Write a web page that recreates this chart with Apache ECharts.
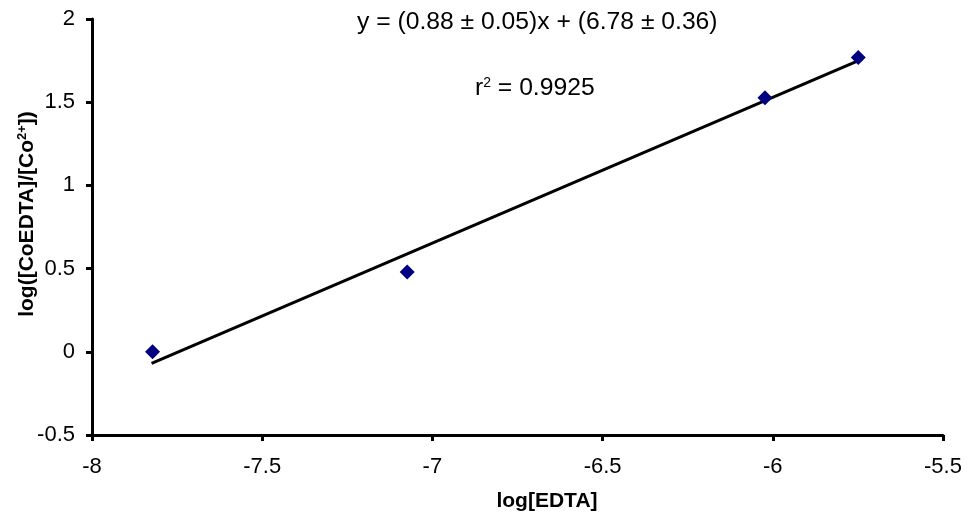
<!DOCTYPE html>
<html><head><meta charset="utf-8">
<script src="https://cdn.jsdelivr.net/npm/echarts@6/dist/echarts.min.js"></script>
<style>html,body{margin:0;padding:0;background:#fff}#c{width:968px;height:516px}</style>
</head><body><div id="c"></div>
<script>
const logEDTA = [-7.822, -7.074, -6.023, -5.749];
const logRatio = [0.0, 0.479, 1.527, 1.768];
const fitX = [-7.825, -5.75];
const fitY = [-0.069, 1.748];
const xTicks = [-8, -7.5, -7, -6.5, -6, -5.5];
const yTicks = [-0.5, 0, 0.5, 1, 1.5, 2];

const chart = echarts.init(document.getElementById('c'));
const font = 'Liberation Sans, Arial, sans-serif';
chart.setOption({
  animation: false,
  grid: {left: 92, right: 25, top: 19, bottom: 81},
  xAxis: {
    type: 'value', min: xTicks[0], max: xTicks[xTicks.length-1], interval: 0.5,
    axisLine: {onZero: false, lineStyle: {color: '#000', width: 3}},
    axisTick: {show: true, length: 6, lineStyle: {color: '#000', width: 3}},
    axisLabel: {fontFamily: font, fontSize: 22, color: '#000', margin: 21},
    splitLine: {show: false}
  },
  yAxis: {
    type: 'value', min: yTicks[0], max: yTicks[yTicks.length-1], interval: 0.5,
    axisLine: {show: true, onZero: false, lineStyle: {color: '#000', width: 3}},
    axisTick: {show: true, length: 6, lineStyle: {color: '#000', width: 3}},
    axisLabel: {fontFamily: font, fontSize: 22, color: '#000', margin: 17},
    splitLine: {show: false}
  },
  series: [
    {type: 'line', data: fitX.map((x,i)=>[x, fitY[i]]), showSymbol: false,
     lineStyle: {color: '#000', width: 3}, z: 2},
    {type: 'scatter', data: logEDTA.map((x,i)=>[x, logRatio[i]]), symbol: 'diamond',
     symbolSize: 15, itemStyle: {color: '#000080', opacity: 1}, z: 3}
  ],
  graphic: [
    {type: 'text', left: 357, top: 10, style: {text: 'y = (0.88 ± 0.05)x + (6.78 ± 0.36)', font: '24.7px ' + font, fill: '#000'}},
    {type: 'text', left: 475, top: 76, style: {
      text: '{a|r}{s|2}{a| = 0.9925}',
      rich: {a: {fontFamily: font, fontSize: 24.7, color: '#000'},
             s: {fontFamily: font, fontSize: 14, color: '#000', verticalAlign: 'top', padding: [0,0,10,0]}}
    }},
    {type: 'text', x: 547, y: 501, style: {text: 'log[EDTA]', font: 'bold 21px ' + font, fill: '#000', align: 'center', verticalAlign: 'middle'}},
    {type: 'text', x: 27, y: 214, rotation: Math.PI/2, style: {
      text: '{b|log([CoEDTA]/[Co}{s|2+}{b|])}', align: 'center', verticalAlign: 'middle',
      rich: {b: {fontFamily: font, fontWeight: 'bold', fontSize: 21, color: '#000'},
             s: {fontFamily: font, fontWeight: 'bold', fontSize: 13, color: '#000', verticalAlign: 'top', padding: [0,0,9,0]}}
    }}
  ]
});
</script></body></html>
